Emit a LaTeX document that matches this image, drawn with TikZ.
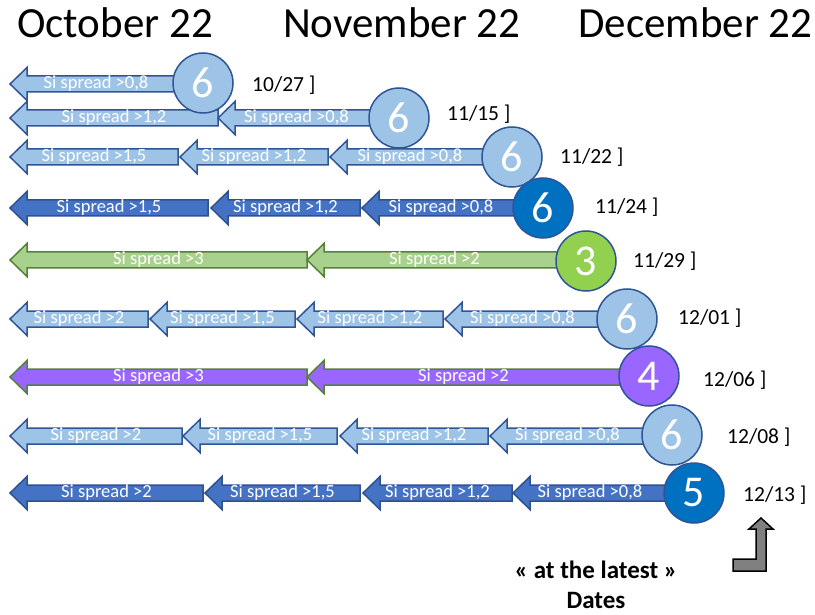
\documentclass[tikz,border=0pt]{standalone}
\usepackage{fontspec}
\setmainfont{Carlito}
\definecolor{lightfill}{HTML}{9DC3E6}
\definecolor{lightline}{HTML}{2F5597}
\definecolor{darkfill}{HTML}{4472C4}
\definecolor{darkline}{HTML}{2F528F}
\definecolor{darkdisc}{HTML}{0070C0}
\definecolor{greenfill}{HTML}{A9D18E}
\definecolor{greenline}{HTML}{548235}
\definecolor{greendisc}{HTML}{92D050}
\definecolor{purplefill}{HTML}{9966FF}
\definecolor{discline}{HTML}{2F5597}
\tikzset{
  lightarrow/.style={fill=lightfill, draw=lightline, line width=1.5pt},
  darkarrow/.style={fill=darkfill, draw=darkline, line width=1.5pt},
  greenarrow/.style={fill=greenfill, draw=greenline, line width=1.5pt},
  purplearrow/.style={fill=purplefill, draw=greenline, line width=1.5pt},
  spreadtxt/.style={text=white, inner sep=0pt, font=\fontsize{18.5}{18.5}\selectfont},
  disc/.style={circle, minimum size=60pt, inner sep=0pt, draw=discline, line width=1.5pt,
    text=white, font=\fontsize{44}{44}\selectfont},
  datelabel/.style={anchor=west, inner sep=0pt, font=\fontsize{21.5}{21.5}\selectfont},
  month/.style={anchor=base west, inner sep=0pt, font=\fontsize{43}{43}\selectfont},
  note/.style={anchor=base, inner sep=0pt, font=\fontsize{25}{25}\selectfont\bfseries}
}
% block arrow pointing left: style, name, tip x, tail x, y, threshold
\newcommand\spreadarrow[6]{%
  \draw[#1] (#3,#5) -- (#3+17,#5-16.5) -- (#3+17,#5-8) -- (#4,#5-8)
    -- (#4,#5+8) -- (#3+17,#5+8) -- (#3+17,#5+16.5) -- cycle;
  \node[spreadtxt] (#2) at ({(#3+#4)/2},#5-0.5) {Si spread >#6};
}
\begin{document}
\begin{tikzpicture}[x=1pt, y=-1pt]
\useasboundingbox (0,0) rectangle (815,615);

% month headings
\node[month] (oct) at (17,38) {October 22};
\node[month] (nov) at (283,38) {November 22};
\node[month] (dec) at (578,38) {December 22};

% row 1
\spreadarrow{lightarrow}{a11}{10}{182}{84}{0,8}
% row 2
\spreadarrow{lightarrow}{a21}{10}{218}{118}{1,2}
\spreadarrow{lightarrow}{a22}{218}{375}{118}{0,8}
% row 3
\spreadarrow{lightarrow}{a31}{10}{178}{157}{1,5}
\spreadarrow{lightarrow}{a32}{180}{328}{157}{1,2}
\spreadarrow{lightarrow}{a33}{330}{490}{157}{0,8}
% row 4
\spreadarrow{darkarrow}{a41}{10}{208}{208}{1,5}
\spreadarrow{darkarrow}{a42}{211}{360}{208}{1,2}
\spreadarrow{darkarrow}{a43}{362}{520}{208}{0,8}
% row 5
\spreadarrow{greenarrow}{a51}{10}{307}{260}{3}
\spreadarrow{greenarrow}{a52}{307}{562}{260}{2}
% row 6
\spreadarrow{lightarrow}{a61}{10}{148}{319}{2}
\spreadarrow{lightarrow}{a62}{150}{295}{319}{1,5}
\spreadarrow{lightarrow}{a63}{297}{443}{319}{1,2}
\spreadarrow{lightarrow}{a64}{445}{600}{319}{0,8}
% row 7
\spreadarrow{purplearrow}{a71}{10}{307}{377}{3}
\spreadarrow{purplearrow}{a72}{307}{620}{377}{2}
% row 8
\spreadarrow{lightarrow}{a81}{10}{182}{436}{2}
\spreadarrow{lightarrow}{a82}{183}{337}{436}{1,5}
\spreadarrow{lightarrow}{a83}{340}{488}{436}{1,2}
\spreadarrow{lightarrow}{a84}{490}{645}{436}{0,8}
% row 9
\spreadarrow{darkarrow}{a91}{10}{203}{493}{2}
\spreadarrow{darkarrow}{a92}{205}{360}{493}{1,5}
\spreadarrow{darkarrow}{a93}{363}{512}{493}{1,2}
\spreadarrow{darkarrow}{a94}{513}{667}{493}{0,8}

% count discs
\node[disc, fill=lightfill] (c1) at (203,83) {6};
\node[disc, fill=lightfill] (c2) at (399,118) {6};
\node[disc, fill=lightfill] (c3) at (512,157) {6};
\node[disc, fill=darkdisc] (c4) at (543,208) {6};
\node[disc, fill=greendisc] (c5) at (586,261) {3};
\node[disc, fill=lightfill] (c6) at (627,319) {6};
\node[disc, fill=purplefill] (c7) at (649,376) {4};
\node[disc, fill=lightfill] (c8) at (672,435) {6};
\node[disc, fill=darkdisc] (c9) at (694,493) {5};

% dates
\node[datelabel] (d1) at (252,85) {10/27 ]};
\node[datelabel] (d2) at (447,114) {11/15 ]};
\node[datelabel] (d3) at (560,157) {11/22 ]};
\node[datelabel] (d4) at (595,207) {11/24 ]};
\node[datelabel] (d5) at (633,261) {11/29 ]};
\node[datelabel] (d6) at (678,318) {12/01 ]};
\node[datelabel] (d7) at (703,380) {12/06 ]};
\node[datelabel] (d8) at (727,437) {12/08 ]};
\node[datelabel] (d9) at (743,495) {12/13 ]};

% bent pointer up to the last date
\draw[fill=gray, draw=black, line width=1.5pt]
  (761,518) -- (773,529) -- (766,529) -- (766,571) -- (733,571) -- (733,559)
  -- (756,559) -- (756,529) -- (749,529) -- cycle;

% caption
\node[note] (n1) at (596,578) {« at the latest »};
\node[note] (n2) at (596,608) {Dates};
\end{tikzpicture}
\end{document}
